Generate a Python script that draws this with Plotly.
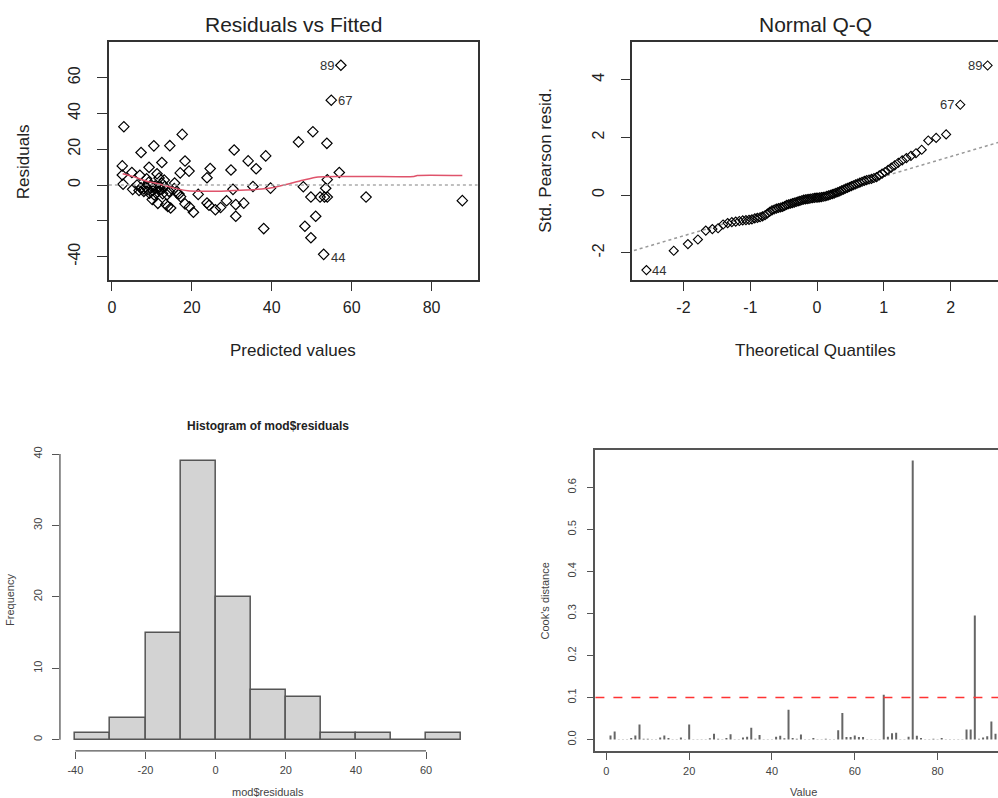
import plotly.graph_objects as go
from statistics import NormalDist

W, H = 998, 798

# ---------------- Residuals vs Fitted ----------------
fitted = [30.6, 29.8, 34.1, 36.1, 38.5, 30.3, 35.3, 39.7, 31.0, 33.0,
          31.0, 38.0, 46.7, 50.3, 53.8, 47.9, 49.8, 52.1, 53.9, 53.5,
          53.9, 56.9, 51.0, 48.3, 49.8, 53.0, 57.3, 54.9, 63.6, 87.7,
          53.2, 3.0, 17.6, 7.3, 10.5, 14.5, 2.6, 9.3, 12.5, 18.3,
          17.1, 19.3, 24.6, 23.8, 2.6, 5.0, 7.0, 11.3, 11.8, 15.7,
          2.8, 5.2, 10.1, 13.8, 14.0, 14.7, 16.3, 17.2, 18.3, 19.4,
          20.4, 21.6, 23.8, 24.3, 25.9, 27.2, 28.7, 8.7, 13.1, 12.5,
          6.3, 7.3, 8.0, 8.5, 9.0, 9.4, 9.8, 10.2, 10.6, 11.0,
          11.4, 11.5, 12.2, 12.7, 13.2, 8.0, 9.2, 10.8, 14.3, 15.6,
          16.8, 6.8, 13.5, 12.0]
residuals = [19.6, 8.4, 13.5, 9.1, 16.3, -2.4, -0.8, -1.7, -10.9, -10.1,
             -17.4, -24.3, 24.1, 29.8, 23.3, -0.9, -6.7, -6.7, -6.7, -1.8,
             3.0, 7.0, -17.4, -23.0, -29.4, -38.7, 66.9, 47.4, -6.7, -8.7,
             -6.7, 32.6, 28.3, 18.2, 21.9, 22.0, 10.7, 9.9, 12.6, 13.4,
             6.8, 7.8, 9.2, 4.1, 5.6, 7.0, 5.5, 6.3, 3.9, 1.1,
             0.5, -2.4, -8.1, -5.4, -11.9, -12.8, -4.4, -6.5, -10.5, -12.2,
             -15.2, -5.2, -10.0, -11.3, -13.8, -12.5, -8.8, 3.5, 2.8, 1.0,
             0.0, -1.5, -3.5, -1.0, -2.5, -4.5, -0.5, -3.0, -5.5, -1.8,
             -3.8, -10.2, -2.5, -4.8, -0.8, -2.2, 1.5, -0.6, -3.5, -2.0,
             -5.0, -3.0, -10.8, -1.2]
smooth_x = [2.7, 5.0, 8.9, 12.0, 15.6, 19.0, 22.3, 27.0, 30.6, 36.4,
            40.0, 44.8, 48.0, 51.6, 57.0, 64.0, 75.6, 76.4, 87.7]
smooth_y = [6.3, 5.0, 2.0, 0.5, -1.7, -3.2, -3.5, -3.4, -3.0, -2.4,
            -1.5, 1.0, 2.8, 4.5, 4.8, 4.8, 4.8, 5.3, 5.3]
rvf_labels = ["89", "67", "44"]
rvf_label_idx = [26, 27, 25]
rvf_xticks = [0, 20, 40, 60, 80]
rvf_yticks = [-40, -20, 0, 20, 40, 60]
rvf_yticktext = ["-40", "", "0", "20", "40", "60"]

# ---------------- Normal Q-Q ----------------
qq_y = [-2.60, -1.93, -1.70, -1.54, -1.23, -1.18, -1.15, -1.02, -0.97, -0.94,
        -0.92, -0.90, -0.88, -0.87, -0.86, -0.84, -0.81, -0.79, -0.77, -0.74,
        -0.70, -0.64, -0.58, -0.53, -0.50, -0.47, -0.45, -0.43, -0.41, -0.38,
        -0.34, -0.32, -0.30, -0.28, -0.26, -0.24, -0.22, -0.20, -0.18, -0.16,
        -0.15, -0.14, -0.13, -0.12, -0.11, -0.10, -0.09, -0.09, -0.08, -0.07,
        -0.06, -0.05, -0.03, -0.01, 0.01, 0.03, 0.05, 0.08, 0.10, 0.13,
        0.16, 0.19, 0.22, 0.25, 0.28, 0.31, 0.34, 0.37, 0.40, 0.43,
        0.46, 0.49, 0.52, 0.54, 0.56, 0.59, 0.62, 0.68, 0.74, 0.80,
        0.87, 0.95, 1.03, 1.12, 1.20, 1.28, 1.36, 1.45, 1.57, 1.89,
        1.98, 2.10, 3.13, 4.49]
n_obs = len(qq_y)
qq_x = [NormalDist().inv_cdf((i - 0.5) / n_obs) for i in range(1, n_obs + 1)]
qq_line_x = [-3.0, 3.0]
qq_line_y = [-2.10, 2.02]
qq_labels = ["44", "67", "89"]
qq_label_idx = [0, 92, 93]
qq_xticks = [-2, -1, 0, 1, 2]
qq_xticktext = ["-2", "-1", "0", "1", "2"]
qq_yticks = [-2, 0, 2, 4]
qq_yticktext = ["-2", "0", "2", "4"]

# ---------------- Histogram ----------------
hist_breaks = [-40, -30, -20, -10, 0, 10, 20, 30, 40, 50, 60, 70]
hist_counts = [1, 3, 15, 39, 20, 7, 6, 1, 1, 0, 1]
hist_xticks = [-40, -20, 0, 20, 40, 60]
hist_xticktext = ["-40", "-20", "0", "20", "40", "60"]
hist_yticks = [0, 10, 20, 30, 40]

# ---------------- Cook's distance ----------------
cooks = [0.010, 0.019, 0.001, 0.001, 0.001, 0.004, 0.010, 0.036, 0.002, 0.002,
         0.001, 0.001, 0.005, 0.010, 0.004, 0.001, 0.001, 0.005, 0.001, 0.036,
         0.001, 0.001, 0.001, 0.001, 0.003, 0.014, 0.002, 0.001, 0.004, 0.013,
         0.001, 0.001, 0.005, 0.007, 0.028, 0.002, 0.011, 0.001, 0.001, 0.001,
         0.007, 0.009, 0.003, 0.071, 0.004, 0.002, 0.012, 0.001, 0.001, 0.004,
         0.001, 0.001, 0.002, 0.001, 0.001, 0.022, 0.063, 0.006, 0.006, 0.010,
         0.006, 0.006, 0.001, 0.001, 0.001, 0.001, 0.107, 0.007, 0.015, 0.016,
         0.001, 0.001, 0.007, 0.664, 0.009, 0.004, 0.001, 0.001, 0.002, 0.001,
         0.004, 0.001, 0.001, 0.001, 0.001, 0.001, 0.024, 0.024, 0.295, 0.002,
         0.005, 0.008, 0.043, 0.014]
cooks_cutoff = 0.1
cooks_xticks = [0, 20, 40, 60, 80]
cooks_yticks = [0, 0.1, 0.2, 0.3, 0.4, 0.5, 0.6]
cooks_yticktext = ["0.0", "0.1", "0.2", "0.3", "0.4", "0.5", "0.6"]

FONT = "Liberation Sans, Arial, sans-serif"
TXT = "#222222"
AX = "#333333"

def fx(px):
    return px / W

def fy(py):
    return 1 - py / H

fig = go.Figure()

# TL scatter
fig.add_trace(go.Scatter(x=fitted, y=residuals, mode="markers", xaxis="x", yaxis="y",
                         marker=dict(symbol="diamond-open", size=8, color="black",
                                     line=dict(width=1.2, color="black")),
                         showlegend=False, hoverinfo="skip"))
fig.add_trace(go.Scatter(x=smooth_x, y=smooth_y, mode="lines", xaxis="x", yaxis="y",
                         line=dict(color="#DF536B", width=1.5, shape="spline", smoothing=0.6),
                         showlegend=False, hoverinfo="skip"))

# TR QQ
fig.add_trace(go.Scatter(x=qq_line_x, y=qq_line_y, mode="lines", xaxis="x2", yaxis="y2",
                         line=dict(color="#999999", width=1.5, dash="dot"),
                         showlegend=False, hoverinfo="skip"))
fig.add_trace(go.Scatter(x=qq_x, y=qq_y, mode="markers", xaxis="x2", yaxis="y2",
                         marker=dict(symbol="diamond-open", size=7, color="black",
                                     line=dict(width=1.1, color="black")),
                         showlegend=False, hoverinfo="skip"))

# BL histogram
centers = [(hist_breaks[i] + hist_breaks[i + 1]) / 2 for i in range(len(hist_counts))]
fig.add_trace(go.Bar(x=centers, y=hist_counts, width=10, xaxis="x3", yaxis="y3",
                     marker=dict(color="#D3D3D3", line=dict(color="#555555", width=1.5)),
                     showlegend=False, hoverinfo="skip"))

# BR Cook's spikes
sx, sy = [], []
for i, c in enumerate(cooks, start=1):
    sx += [i, i, None]
    sy += [0, c, None]
fig.add_trace(go.Scatter(x=sx, y=sy, mode="lines", xaxis="x4", yaxis="y4",
                         line=dict(color="#666666", width=2),
                         showlegend=False, hoverinfo="skip"))

tickfont_big = dict(family=FONT, size=16, color=TXT)
tickfont_small = dict(family=FONT, size=11, color="#444444")

common_big = dict(showgrid=False, zeroline=False, ticks="outside", ticklen=10,
                  tickwidth=1.3, tickcolor=AX, tickfont=tickfont_big,
                  showline=True, linecolor=AX, linewidth=1.5)
common_small = dict(showgrid=False, zeroline=False, ticks="outside", ticklen=7,
                    tickwidth=1.2, tickcolor="#555555", tickfont=tickfont_small)

fig.update_layout(
    width=W, height=H, margin=dict(l=0, r=0, t=0, b=0),
    paper_bgcolor="white", plot_bgcolor="white",
    font=dict(family=FONT, color=TXT),
    bargap=0,
    xaxis=dict(domain=[fx(108), fx(477)], range=[-0.75, 91.5], anchor="y",
               tickvals=rvf_xticks, mirror=True, ticklabelstandoff=2,
               **common_big),
    yaxis=dict(domain=[fy(277), fy(38)], range=[-52.8, 80], anchor="x",
               tickvals=rvf_yticks, ticktext=rvf_yticktext,
               tickangle=-90, mirror=True, ticklabelstandoff=11, **common_big),
    xaxis2=dict(domain=[fx(632), 1.0], range=[-2.765, 2.71], anchor="y2",
                tickvals=qq_xticks, ticktext=qq_xticktext, mirror=True, ticklabelstandoff=2,
                **common_big),
    yaxis2=dict(domain=[fy(277), fy(38)], range=[-2.93, 5.31], anchor="x2",
                tickvals=qq_yticks, ticktext=qq_yticktext, tickangle=-90, ticklabelstandoff=10,
                **common_big),
    xaxis3=dict(domain=[fx(59), fx(476)], range=[-44.4, 74.4], anchor="y3",
                tickvals=hist_xticks, ticktext=hist_xticktext, showline=False,
                ticklabelstandoff=2, **common_small),
    yaxis3=dict(domain=[fy(750.6), fy(448.3)], range=[-1.56, 40.56], anchor="x3",
                tickvals=hist_yticks, tickangle=-90, showline=False,
                ticklabelstandoff=6, **common_small),
    xaxis4=dict(domain=[fx(595), 1.0], range=[-2.65, 94.6], anchor="y4",
                tickvals=cooks_xticks, showline=True, mirror=True,
                linecolor="#555555", linewidth=1.5, ticklabelstandoff=2, **common_small),
    yaxis4=dict(domain=[fy(751), fy(448.3)], range=[-0.0277, 0.689], anchor="x4",
                tickvals=cooks_yticks, ticktext=cooks_yticktext,
                tickangle=-90, showline=True, linecolor="#555555", linewidth=1.5,
                ticklabelstandoff=6, **common_small),
)

shapes = [
    dict(type="line", xref="x domain", yref="y", x0=0, x1=1, y0=0, y1=0,
         line=dict(color="#AAAAAA", width=1.5, dash="dot")),
    dict(type="line", xref="x3", yref="y3 domain", x0=-40, x1=60, y0=0, y1=0,
         line=dict(color="#555555", width=1.3)),
    dict(type="line", xref="x3 domain", yref="y3", x0=0, x1=0, y0=0, y1=40,
         line=dict(color="#555555", width=1.3)),
    dict(type="line", xref="x4 domain", yref="y4", x0=0, x1=1, y0=cooks_cutoff, y1=cooks_cutoff,
         line=dict(color="#FF3333", width=1.5, dash="dash")),
]
fig.update_layout(shapes=shapes)

ann = []
def text(x, y, s, size, bold=False, angle=0, color=TXT):
    ann.append(dict(x=fx(x), y=fy(y), xref="paper", yref="paper", text=("<b>%s</b>" % s) if bold else s,
                    showarrow=False, textangle=angle, xanchor="center", yanchor="middle",
                    font=dict(family=FONT, size=size, color=color)))

text(292.5, 21, "Residuals vs Fitted", 21)
text(292.5, 348, "Predicted values", 17)
text(22, 158, "Residuals", 17, angle=-90)
text(815, 21, "Normal Q-Q", 21)
text(815, 348, "Theoretical Quantiles", 17)
text(545, 157, "Std. Pearson resid.", 17, angle=-90)
text(267, 424, "Histogram of mod$residuals", 12, bold=True)
text(267, 792, "mod$residuals", 11, color="#444444")
text(9, 599, "Frequency", 11, angle=-90, color="#444444")
text(803, 792, "Value", 11, color="#444444")
text(545, 600, "Cook's distance", 11, angle=-90, color="#444444")

lab_font = dict(family=FONT, size=13, color="#333333")
for s, i in zip(rvf_labels, rvf_label_idx):
    right = s != "89"
    ann.append(dict(x=fitted[i], y=residuals[i], xref="x", yref="y", text=s, showarrow=False,
                    xanchor="left" if right else "right", yanchor="middle",
                    xshift=5 if right else -5, yshift=-3 if s == "44" else 0, font=lab_font))
for s, i in zip(qq_labels, qq_label_idx):
    right = s == "44"
    ann.append(dict(x=qq_x[i], y=qq_y[i], xref="x2", yref="y2", text=s, showarrow=False,
                    xanchor="left" if right else "right", yanchor="middle",
                    xshift=4 if right else -4, font=lab_font))
fig.update_layout(annotations=ann)

fig.write_html("out.html")
